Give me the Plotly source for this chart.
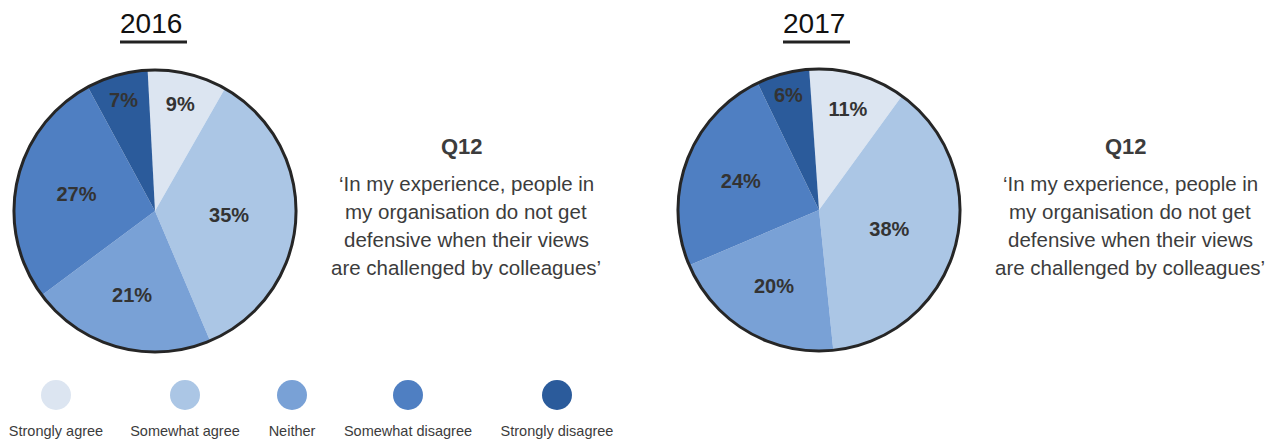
import plotly.graph_objects as go

# Survey responses, Q12
categories = ["Strongly agree", "Somewhat agree", "Neither", "Somewhat disagree", "Strongly disagree"]
values_2016 = [9, 35, 21, 27, 7]
values_2017 = [11, 38, 20, 24, 6]
years = ["2016", "2017"]
question_id = "Q12"
question_lines = [
    "\u2018In my experience, people in",
    "my organisation do not get",
    "defensive when their views",
    "are challenged by colleagues\u2019",
]

colors = ["#dce5f1", "#abc6e5", "#79a1d6", "#4f7fc2", "#2b5b9b"]

W, H = 1279, 441
FONT = "Liberation Sans, Arial, sans-serif"
TEXT_COLOR = "#3c3c3c"


def px_x(x):
    return x / W


def px_y(y):
    return 1 - y / H


def pie_domain(cx, cy, r):
    return dict(x=[px_x(cx - r), px_x(cx + r)], y=[px_y(cy + r), px_y(cy - r)])


fig = go.Figure()

# pie centres / radius in pixels, plus start rotation
pies = [
    (values_2016, (155, 211), 141, -3),
    (values_2017, (819, 210), 141, -4),
]

for vals, (cx, cy), r, rot in pies:
    dom = pie_domain(cx, cy, r)
    fig.add_trace(go.Pie(
        labels=categories,
        values=vals,
        sort=False,
        direction="clockwise",
        rotation=rot,
        domain=dom,
        marker=dict(colors=colors, line=dict(width=0)),
        texttemplate="<b>%{value}%</b>",
        textposition="inside",
        insidetextorientation="horizontal",
        textfont=dict(family=FONT, size=20, color="#333333"),
        showlegend=False,
        hoverinfo="label+value",
    ))
    # outer rim drawn as a single full-circle slice
    fig.add_trace(go.Pie(
        values=[1],
        labels=[""],
        sort=False,
        domain=dom,
        marker=dict(colors=["rgba(0,0,0,0)"], line=dict(color="#262626", width=3)),
        textinfo="none",
        hoverinfo="skip",
        showlegend=False,
    ))

# legend: circles with captions underneath
legend_x = [56, 185, 292, 408, 557]
fig.add_trace(go.Scatter(
    x=legend_x, y=[395] * len(categories),
    mode="markers",
    marker=dict(size=30, color=colors, line=dict(width=0)),
    hoverinfo="skip", showlegend=False,
))
fig.add_trace(go.Scatter(
    x=legend_x, y=[432] * len(categories),
    mode="text",
    text=categories,
    textfont=dict(family=FONT, size=14.5, color=TEXT_COLOR),
    hoverinfo="skip", showlegend=False,
))

annotations = []
shapes = []

# year titles with underline
for year, cx, ux in [(years[0], 151, (120, 187)), (years[1], 814, (783, 850))]:
    annotations.append(dict(
        x=px_x(cx), y=px_y(23), xref="paper", yref="paper",
        text=year, showarrow=False, xanchor="center", yanchor="middle",
        font=dict(family=FONT, size=28, color="#111111"),
    ))
    shapes.append(dict(
        type="line", xref="paper", yref="paper",
        x0=px_x(ux[0]), x1=px_x(ux[1]), y0=px_y(42), y1=px_y(42),
        line=dict(color="#222222", width=3),
    ))

# question text blocks
for qx, tx in [(462, 466), (1126, 1130)]:
    annotations.append(dict(
        x=px_x(qx), y=px_y(147), xref="paper", yref="paper",
        text=f"<b>{question_id}</b>", showarrow=False,
        xanchor="center", yanchor="middle",
        font=dict(family=FONT, size=22, color=TEXT_COLOR),
    ))
    for i, line in enumerate(question_lines):
        annotations.append(dict(
            x=px_x(tx), y=px_y(183 + 28 * i), xref="paper", yref="paper",
            text=line, showarrow=False, xanchor="center", yanchor="middle",
            font=dict(family=FONT, size=20.5, color=TEXT_COLOR),
        ))

fig.update_layout(
    width=W, height=H,
    margin=dict(l=0, r=0, t=0, b=0),
    paper_bgcolor="white", plot_bgcolor="white",
    xaxis=dict(range=[0, W], domain=[0, 1], visible=False, fixedrange=True),
    yaxis=dict(range=[H, 0], domain=[0, 1], visible=False, fixedrange=True),
    annotations=annotations,
    shapes=shapes,
    font=dict(family=FONT),
)

fig.write_html("out.html")
